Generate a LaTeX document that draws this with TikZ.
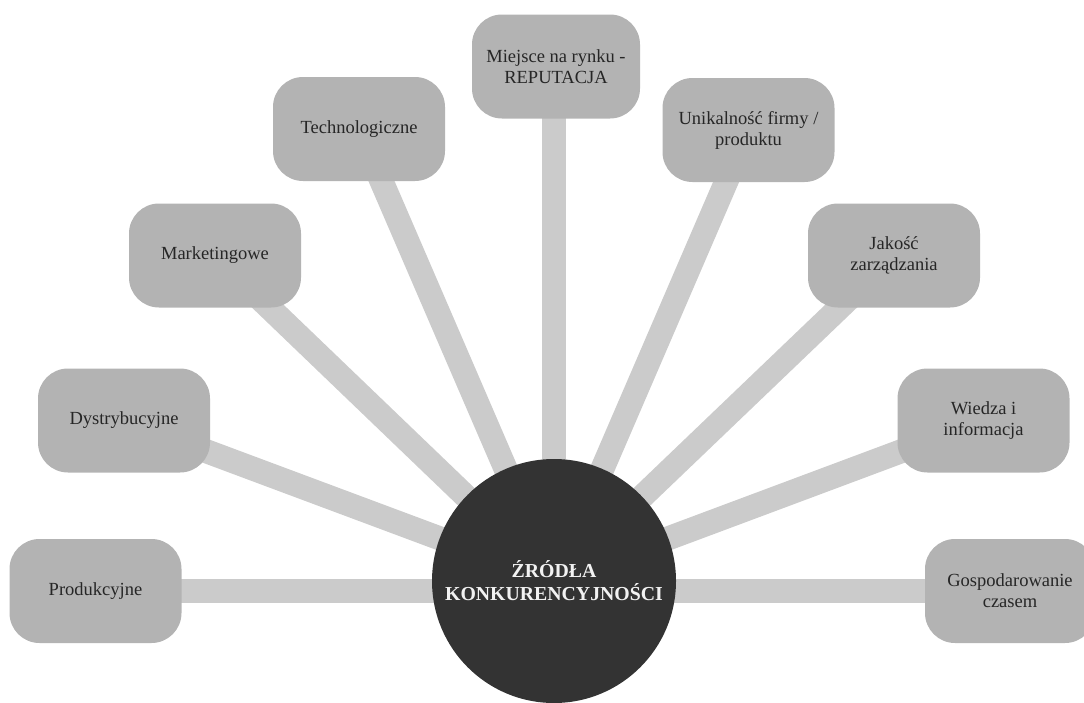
\documentclass[tikz,border=0pt]{standalone}
\usepackage{fontspec}
\setmainfont{Liberation Serif}
\usetikzlibrary{backgrounds}
\definecolor{boxgray}{HTML}{B3B3B3}
\definecolor{spokegray}{HTML}{CBCBCB}
\definecolor{hubgray}{HTML}{333333}
\definecolor{labelgray}{HTML}{262626}
\definecolor{hubtext}{HTML}{F2F2F2}
\begin{document}
\begin{tikzpicture}[x=1pt,y=-1pt,
  factor/.style={fill=boxgray, rounded corners=30pt, minimum width=172pt,
    minimum height=104pt, align=center, text=labelgray, inner sep=0pt,
    font=\fontsize{18.5}{21}\selectfont},
  hub/.style={circle, fill=hubgray, minimum size=244pt, inner sep=0pt,
    align=center, text=hubtext, font=\fontsize{19.8}{23}\selectfont\bfseries},
  spoke/.style={draw=spokegray, line width=24pt}]
\useasboundingbox (0,0) rectangle (1084,702);

% central hub
\node[hub] (c) at (554,581) {ŹRÓDŁA\\KONKURENCYJNOŚCI};

% surrounding factors
\node[factor] (p) at (95.5,591)   {Produkcyjne};
\node[factor] (d) at (124,420.5)  {Dystrybucyjne};
\node[factor] (m) at (215,255.5)  {Marketingowe};
\node[factor] (t) at (359,129)    {Technologiczne};
\node[factor, minimum width=168pt] (r) at (556,66.5) {Miejsce na rynku -\\REPUTACJA};
\node[factor] (u) at (748.5,130)  {Unikalność firmy /\\produktu};
\node[factor] (j) at (894,255.5)  {Jakość\\zarządzania};
\node[factor] (w) at (983.5,420.5){Wiedza i\\informacja};
\node[factor, minimum width=170pt] (g) at (1010,591) {Gospodarowanie\\czasem};

% spokes behind everything
\begin{pgfonlayer}{background}
  \draw[spoke] (p.center) -- (p.center -| c.center);
  \draw[spoke] (g.center) -- (g.center -| c.center);
  \draw[spoke] (c.center) -- (c.center |- r.center);
  \foreach \n in {d,m,t,u,j,w}
    \draw[spoke] (c.center) -- (\n.center);
\end{pgfonlayer}
\end{tikzpicture}
\end{document}
